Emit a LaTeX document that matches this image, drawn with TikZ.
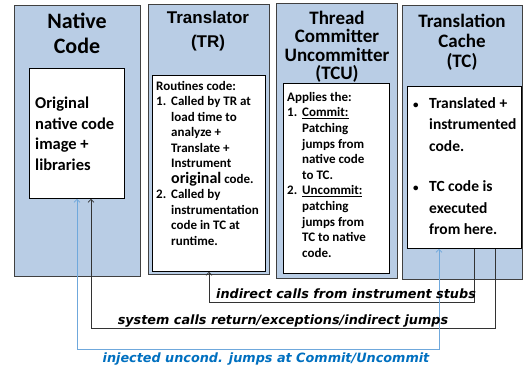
\documentclass[tikz,border=0pt]{standalone}
\usepackage{fontspec}
\setmainfont{Carlito}
\newfontfamily\arialfont{Liberation Sans}
\newfontfamily\stubfont{DejaVu Sans}
\usetikzlibrary{arrows.meta}
\definecolor{colblue}{HTML}{B9CDE5}
\definecolor{jmpblue}{HTML}{6FA8DC}
\definecolor{lblblue}{HTML}{0070C0}
\newcommand{\itm}[1]{\makebox[15pt][l]{#1}}
\newcommand{\ind}{\hspace*{15pt}}
\newcommand{\smallbul}{\makebox[16pt][l]{\fontsize{11}{11}\selectfont\textbullet}}

\begin{document}
\begin{tikzpicture}[x=1pt,y=-1pt,
		column/.style={fill=colblue, draw=black!75, line width=0.8pt, anchor=north west, inner sep=0pt},
		codebox/.style={fill=white, draw=black, line width=0.8pt, anchor=north west, inner sep=0pt},
		head/.style={font=\bfseries, align=center},
		body/.style={font=\bfseries, align=left, anchor=north west, inner sep=0pt},
		conn/.style={draw=black!80, line width=0.7pt, -{Straight Barb[length=3pt,width=6pt]}},
		jmp/.style={draw=jmpblue, line width=0.7pt, {Straight Barb[length=3pt,width=6pt]}-{Straight Barb[length=3pt,width=6pt]}},
		lbl/.style={font=\stubfont\bfseries\itshape\fontsize{12.8}{14}\selectfont}]
	\useasboundingbox[fill=white] (0,0) rectangle (523,371);
	
	% columns
	\node[column, minimum width=126pt, minimum height=271pt] (ncol) at (14,5) {};
	\node[column, minimum width=121pt, minimum height=270pt] (trcol) at (148,4) {};
	\node[column, minimum width=121pt, minimum height=275pt] (tcucol) at (276,3) {};
	\node[column, minimum width=120pt, minimum height=274pt] (tccol) at (402,5) {};
	
	% code boxes
	\node[codebox, minimum width=95pt, minimum height=130pt] (ncbox) at (29,68) {};
	\node[codebox, minimum width=113pt, minimum height=196pt] (trbox) at (152,75) {};
	\node[codebox, minimum width=106pt, minimum height=190pt] (tcubox) at (283,83) {};
	\node[codebox, minimum width=114pt, minimum height=162pt] (tcbox) at (407,86) {};
	
	% headings
	\node[head, font=\bfseries\fontsize{22}{25}\selectfont] (nchead) at (77,33) {Native\\Code};
	\node[head, font=\arialfont\bfseries\fontsize{17}{24}\selectfont] (trhead) at (208,31) {Translator\\(TR)};
	\node[head, font=\bfseries\fontsize{19}{18.5}\selectfont] (tcuhead) at (337,47) {Thread\\Committer\\Uncommitter\\(TCU)};
	\node[head, font=\bfseries\fontsize{19}{20}\selectfont] (tchead) at (462,42) {Translation\\Cache\\(TC)};
	
	% box texts
	\node[body, font=\bfseries\fontsize{16.5}{20.5}\selectfont] (nctext) at (35,97) {Original\\native code\\image +\\libraries};
	\node[body, font=\bfseries\fontsize{13}{15.5}\selectfont] (trtext) at (156,81) {Routines code:\\
		\itm{1.}Called by TR at\\ \ind load time to\\ \ind analyze +\\ \ind Translate +\\ \ind Instrument\\
		\ind{\fontsize{16}{15.5}\selectfont original} code.\\
		\itm{2.}Called by\\ \ind instrumentation\\ \ind code in TC at\\ \ind runtime.};
	\node[body, font=\bfseries\fontsize{13}{15.6}\selectfont] (tcutext) at (287,92) {Applies the:\\
		\itm{1.}\underline{Commit:}\\ \ind Patching\\ \ind jumps from\\ \ind native code\\ \ind to TC.\\
		\itm{2.}\underline{Uncommit:}\\ \ind patching\\ \ind jumps from\\ \ind TC to native\\ \ind code.};
	\node[body, font=\bfseries\fontsize{15.5}{21.5}\selectfont] (tctext) at (413,97) {\smallbul Translated +\\ \hspace*{16pt}instrumented\\ \hspace*{16pt}code.\\[19pt]
		\smallbul TC code is\\ \hspace*{16pt}executed\\ \hspace*{16pt}from here.};
	
	% jumps between the parts
	\draw[conn] ([xshift=67pt]tcbox.south west) -- ++(0,54) -| ([xshift=57pt]trbox.south west);
	\draw[conn] ([xshift=88pt]tcbox.south west) -- ++(0,80) -| ([xshift=62pt]ncbox.south west);
	\draw[jmp] ([xshift=32pt]tcbox.south west) -- ++(0,101) -| ([xshift=48pt]ncbox.south west);
	\node[lbl] (stublbl) at (346,294) {indirect calls from instrument stubs};
	\node[lbl] (syslbl) at (283,321) {system calls return/exceptions/indirect jumps};
	\node[lbl, text=lblblue] (injlbl) at (266,359) {injected uncond. jumps at Commit/Uncommit};
\end{tikzpicture}
\end{document}
